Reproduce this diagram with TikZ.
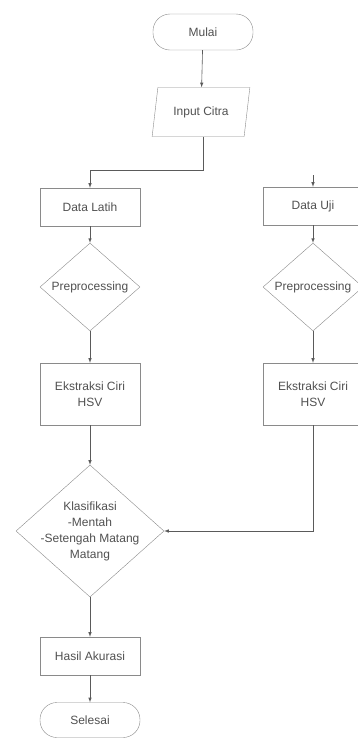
\documentclass[tikz,border=0pt]{standalone}
\usepackage{fontspec}
\setmainfont{Liberation Sans}
\usetikzlibrary{positioning,shapes.geometric,arrows}
\definecolor{lineg}{HTML}{8A8A8A}
\definecolor{arrg}{HTML}{5A5A5A}
\definecolor{textg}{HTML}{505050}
\tikzset{
box/.style={draw=lineg, thin, minimum width=100pt, minimum height=38pt, align=center, text=textg, font=\fontsize{12}{16}\selectfont},
term/.style={box, rounded corners=17pt, minimum height=36pt},
io/.style={box, trapezium, trapezium left angle=77, trapezium right angle=103, trapezium stretches=true, minimum width=98pt, minimum height=49pt},
dec/.style={box, diamond, inner sep=0pt, minimum width=100pt, minimum height=75pt},
arr/.style={draw=arrg, line width=0.6pt, -latex},
ln/.style={draw=lineg, thin}
}

\begin{document}
\begin{tikzpicture}[x=1pt, y=-1pt]
\useasboundingbox (0,0) rectangle (358,742);

% kolom kiri
\node[term] (mulai) at (203,32) {Mulai};
\node[io] (input) at (201,112) {Input Citra};
\coordinate (split) at (203,170);
\node[box] (latih) at (90,207) {Data Latih};
\node[dec] (prep1) at (90,287) {Preprocessing};
\node[box, minimum height=62pt] (ekstr1) at (90,394) {Ekstraksi Ciri\\HSV};
\node[box, diamond, minimum width=148pt, minimum height=132pt] (klas) at (90,531) {};
\node[text=textg, align=center, font=\fontsize{12}{16}\selectfont] (klastxt) at (klas) {Klasifikasi\\-Mentah\\-Setengah Matang\\Matang};
\node[box] (hasil) at (90,656) {Hasil Akurasi};
\node[term, minimum height=35pt] (selesai) at (90,720) {Selesai};

% kolom kanan
\coordinate (ujiin) at (313,175);
\node[box] (uji) at (313,206) {Data Uji};
\node[dec] (prep2) at (313,287) {Preprocessing};
\node[box, minimum height=62pt] (ekstr2) at (313,394) {Ekstraksi Ciri\\HSV};

\draw[arr] (mulai) -- (input);
\draw[arr] (input.south -| split) -- (split) -| (latih.north);
\draw[arr] (latih) -- (prep1);
\draw[arr] (prep1) -- (ekstr1);
\draw[arr] (ekstr1) -- (klas);
\draw[arr] (klas) -- (hasil);
\draw[arr] (hasil) -- (selesai);

\draw[arr] (ujiin) -- (uji);
\draw[arr] (uji) -- (prep2);
\draw[arr] (prep2) -- (ekstr2);
\draw[arr] (ekstr2.south) |- (klas.east);
\end{tikzpicture}
\end{document}
